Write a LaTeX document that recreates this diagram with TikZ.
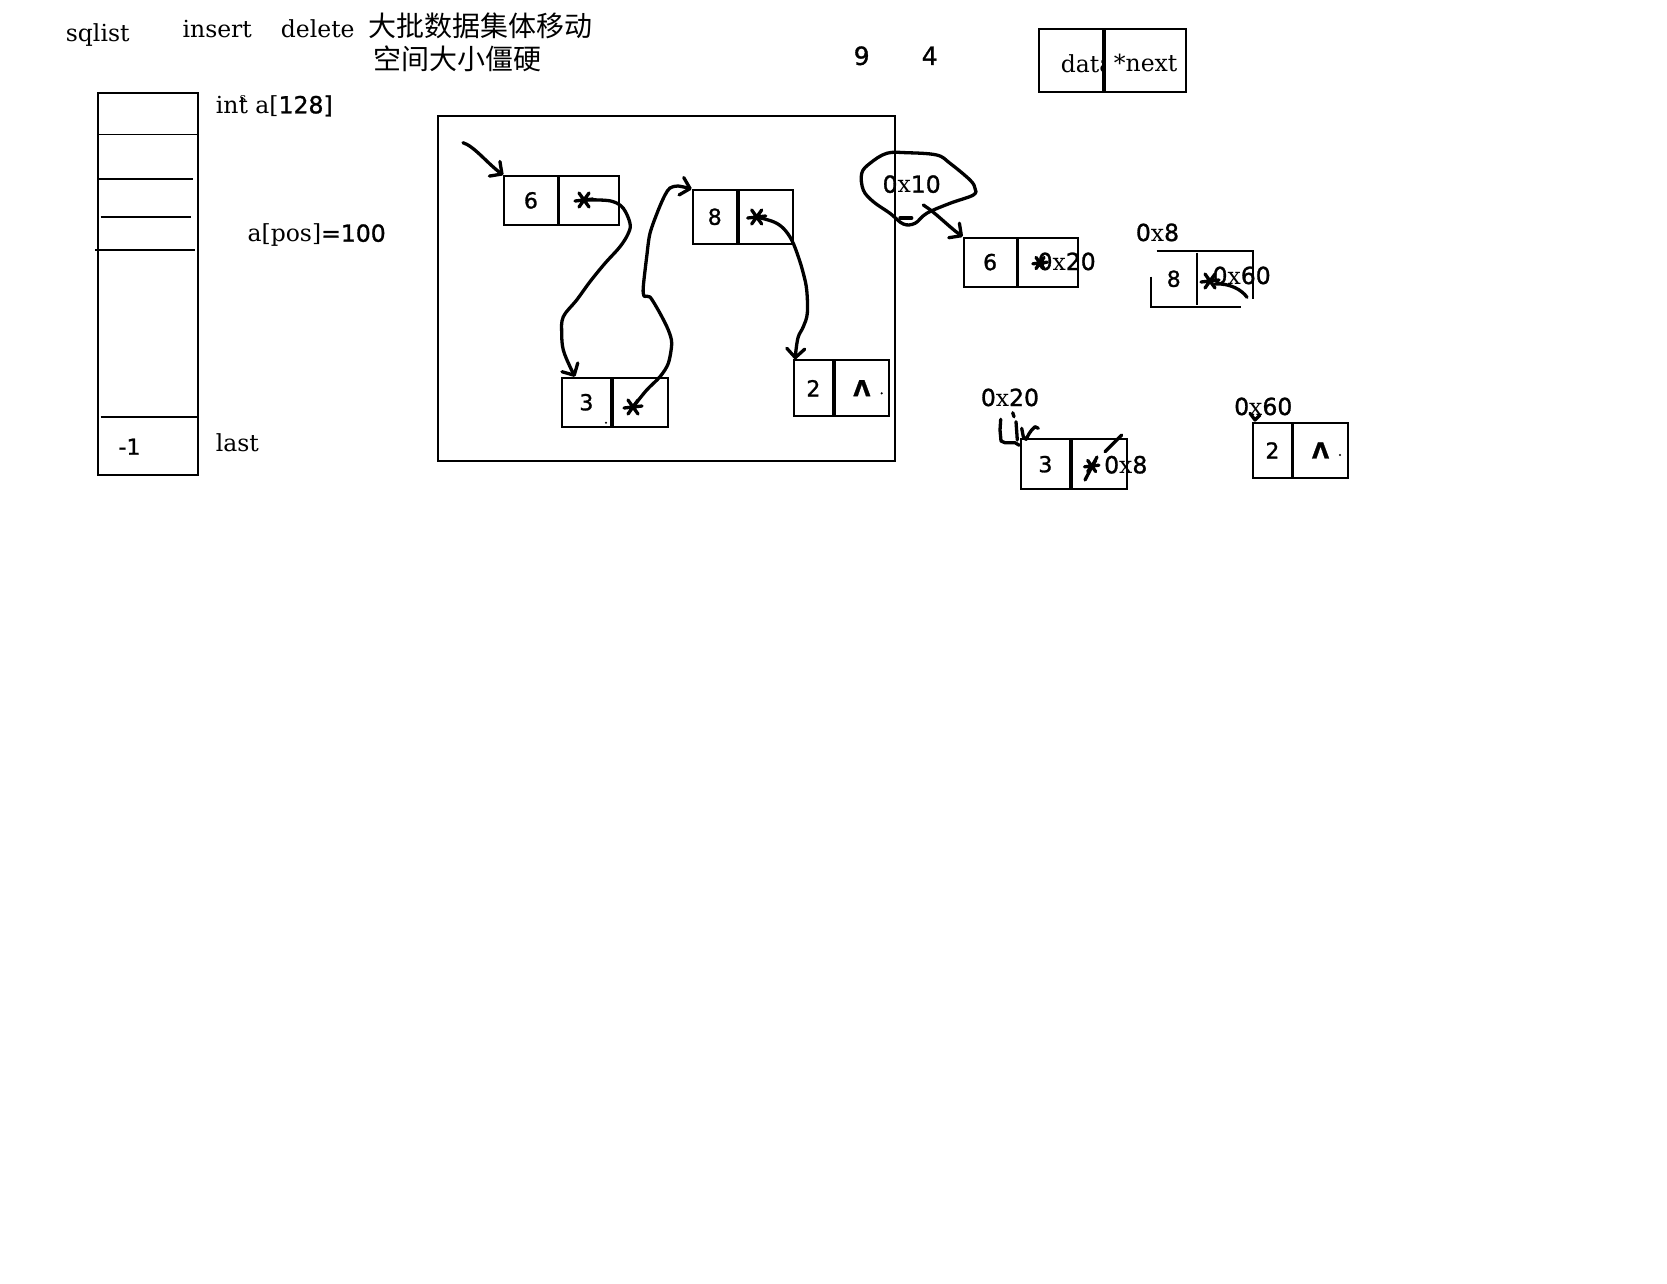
\documentclass[tikz,border=0pt]{standalone}
\usepackage{fontspec}
\setmainfont{DejaVu Serif}
\newfontfamily\dg{DejaVu Sans}[FakeBold=1.2]
\newfontfamily\cjk{Noto Sans CJK SC}
\usetikzlibrary{arrows.meta,calc}

\begin{document}
\begin{tikzpicture}[x=1pt,y=-1pt,line width=1.8pt,
    cell/.style={draw,inner sep=0pt,anchor=north west,font=\dg\fontsize{22}{26}\selectfont},
    lbl/.style={inner sep=0pt,anchor=base west,font=\fontsize{23.5}{28}\selectfont},
    num/.style={inner sep=0pt,font=\dg\fontsize{22}{26}\selectfont},
    han/.style={inner sep=0pt,anchor=west,font=\cjk\fontsize{28}{32}\selectfont},
    pen/.style={line width=3.3pt,line cap=round,line join=round},
    tip/.style={-{Straight Barb[length=9pt,width=18pt,round]}},
    ast/.pic={\draw[pen] (-9,1)--(9,-1) (-5,-7)--(5,7) (-5,7)--(5,-7);}]
    \fill[white] (0,0) rectangle (1667,1283);

    \node[lbl] (sq) at (65,41.7) {sqlist};
    \node[lbl] (ins) at (181.7,37.3) {insert};
    \node[lbl] (del) at (280,37.3) {delete};
    \node[han] (why) at (368,26.3) {大批数据集体移动};
    \node[han] (why2) at (372.7,59.3) {空间大小僵硬};
    \node[num,font=\dg\fontsize{25}{30}\selectfont] (nine) at (861.7,55.8) {9};
    \node[num,font=\dg\fontsize{25}{30}\selectfont] (four) at (929.7,55.8) {4};

    \node[cell,minimum width=64pt,minimum height=63pt,
        path picture={\node[lbl] at ([xshift=15.3pt,yshift=-12.2pt]path picture bounding box.west) {data};}] (hd) at (1038,28) {};
    \node[cell,minimum width=81pt,minimum height=63pt] (hn) at (hd.north east) {};
    \node[lbl] (hnt) at (1113,71.7) {*next};

    % sqlist array
    \node[draw,inner sep=0pt,anchor=north west,minimum width=100pt,minimum height=382pt] (arr) at (97,92) {};
    \draw (97,134.5) -- (197,134.5);
    \draw (97,178.7) -- (193.3,178.7);
    \draw (100.7,216.7) -- (190.7,216.7);
    \draw (95,250) -- (195,250);
    \draw (100.7,416.7) -- (197,416.7);
    \node[num] (m1) at (129.5,446.7) {-1};
    \node[lbl] (lastt) at (215,451.7) {last};
    \node[lbl] (decl) at (215,113.3) {in\rlap{\raisebox{.9ex}{\fontsize{13}{13}\selectfont\kern1pt s}}t a[{\dg 128]}};
    \node[lbl] (pos) at (246.7,241.7) {a[pos]{\dg =100}};

    % linked list in the heap
    \node[draw,inner sep=0pt,anchor=north west,minimum width=457.3pt,minimum height=345pt] (heap) at (436.7,115) {};
    \node[cell,minimum width=53.4pt,minimum height=49pt] (a6d) at (503.3,175) {6};
    \node[cell,minimum width=59.3pt,minimum height=49pt] (a6p) at (a6d.north east) {};
    \node[cell,minimum width=49pt,minimum height=49.3pt] (a3d) at (561,376.7) {3};
    \node[cell,minimum width=55pt,minimum height=49.3pt] (a3p) at (a3d.north east) {};
    \node[cell,minimum width=44.3pt,minimum height=53.7pt] (a8d) at (691.7,189) {8};
    \node[cell,minimum width=54pt,minimum height=53.7pt] (a8p) at (a8d.north east) {};
    \node[cell,minimum width=39.6pt,minimum height=56pt] (a2d) at (792.7,359.3) {2};
    \node[cell,minimum width=53.7pt,minimum height=56pt] (a2p) at (a2d.north east) {\bfseries Λ};
    \fill (881.7,393.3) circle (1.2pt);
    \fill (606,422.7) circle (1.2pt);

    \coordinate (in) at (463,142.7);
    \coordinate (s6) at (584,200);
    \coordinate (s3) at (633,407);
    \coordinate (s8) at (756.7,217);
    \pic at (s6) {ast};
    \pic at (s3) {ast};
    \pic at (s8) {ast};
    \draw[pen,tip] (in) .. controls (474,146) and (488,164) .. (a6d.north west);
    \draw[pen,tip] plot[smooth,tension=.6] coordinates {(s6) (600,200) (613.3,201.7) (623.3,208.3) (630,223.3)
        (628.3,233.3) (620,246.7) (605,263.3) (590,281.7) (576.7,300) (563.3,316.7) (561.7,333.3) (563.3,350)
        (570,366.7) ([xshift=14pt]a3d.north west)};
    \draw[pen,tip] plot[smooth,tension=.5] coordinates {(s3) (646.7,390) (660,376.7) (668.3,363.3) (671.7,343.3)
        (668.3,330) (660,313.3) (650,297) (644,296) (643.3,286.7) (646.7,256.7) (650,233.3) (658.3,210)
        (665,195) (670,188) (678,186) (a8d.north west)};
    \draw[pen,tip] plot[smooth,tension=.6] coordinates {(s8) (773.3,221.7) (783.3,228.3) (791.7,240) (798.3,256.7)
        (803.3,273.3) (806.7,290) (807.3,313.3) (803.3,326.7) (798.3,336.7) (796,350) ([xshift=2.5pt]a2d.north west)};
    % \draw[dashed] (heap.north) -- (heap.south);

    % addresses
    \node[lbl] (t10) at (881.7,192.7) {{\dg 0}x{\dg 10}};
    \draw[pen] plot[smooth cycle,tension=.6] coordinates {(886.7,153.3) (906.7,152.7) (936.7,155) (950,163.3)
        (970,180) (975,188.3) (973.3,195) (950,203.3) (926.7,213.3) (915,223.3) (903.3,224) (890,213.3)
        (873.3,201.7) (863.3,190) (861.7,173.3) (870,163.3)};
    \draw[pen] (900,218) -- (911.7,218);

    \node[cell,minimum width=53pt,minimum height=49pt] (b6d) at (962.7,236.7) {6};
    \node[cell,minimum width=59.3pt,minimum height=49pt] (b6p) at (b6d.north east) {};
    \node[cell,draw=none,minimum width=44.3pt,minimum height=54.3pt] (b8d) at (1150.7,250.7) {8};
    \node[cell,draw=none,minimum width=54.6pt,minimum height=54.3pt] (b8p) at (b8d.north east) {};
    \draw ([xshift=6pt]b8d.north west) -- (b8p.north east) -- ([yshift=8pt]b8p.south east);
    \draw ([yshift=-26pt]b8d.north west) -- (b8d.south west) -- ([xshift=-12.6pt]b8p.south east);
    \draw ([yshift=-2pt]b8d.north east) -- ([yshift=2pt]b8d.south east);
    \node[cell,minimum width=49pt,minimum height=50pt] (b3d) at (1020,438.3) {3};
    \node[cell,minimum width=55pt,minimum height=50pt] (b3p) at (b3d.north east) {};
    \node[cell,minimum width=38.4pt,minimum height=55.6pt] (b2d) at (1252.3,421.7) {2};
    \node[cell,minimum width=54.3pt,minimum height=55.6pt] (b2p) at (b2d.north east) {\bfseries Λ};
    \fill (1340,455) circle (1.2pt);

    \node[lbl] (x20) at (1036.7,270) {{\dg 0}x{\dg 20}};
    \node[lbl] (x8) at (1135,241) {{\dg 0}x{\dg 8}};
    \node[lbl] (x60) at (1211.7,284) {{\dg 0}x{\dg 60}};
    \node[lbl] (y20) at (980,406) {{\dg 0}x{\dg 20}};
    \node[lbl] (y8) at (1103.3,473.3) {{\dg 0}x{\dg 8}};
    \node[lbl] (y60) at (1233.3,415) {{\dg 0}x{\dg 60}};

    \coordinate (c10) at (923.3,205);
    \draw[pen,tip] (c10) .. controls (936,213) and (948,226) .. (b6d.north west);
    \pic[scale=.8] at (1040,263) {ast};
    \fill (1041,264) circle (3.5pt);
    \pic at (1210,281) {ast};
    \draw[pen] (1215,284) .. controls (1230,283) and (1242,290) .. (1247,297.3);
    \pic[scale=.8] at (1091.7,466) {ast};
    \draw[pen] (1085,480) -- (1097,457);
    \draw[pen] (1105,451.7) -- (1121.7,435);
    \draw[pen] (1000.7,419.3) -- (1000,430) -- (1001,441) -- (1005,442.7) -- (1015,442.7) -- (1019.3,445.3);
    \draw[pen] (1012.7,412.7) -- (1014,416.7);
    \draw[pen] (1016,421.7) -- (1017.3,440);
    \draw[pen] (1021.7,428.3) -- (1023.3,436.7) -- (1026,439.3) -- (1029.3,433.3) -- (1031.7,430) -- (1035,426.7) -- (1038.3,428.3);
    \draw[pen] (1250,413.3) -- (1255,420) -- (1260,415);
\end{tikzpicture}
\end{document}
